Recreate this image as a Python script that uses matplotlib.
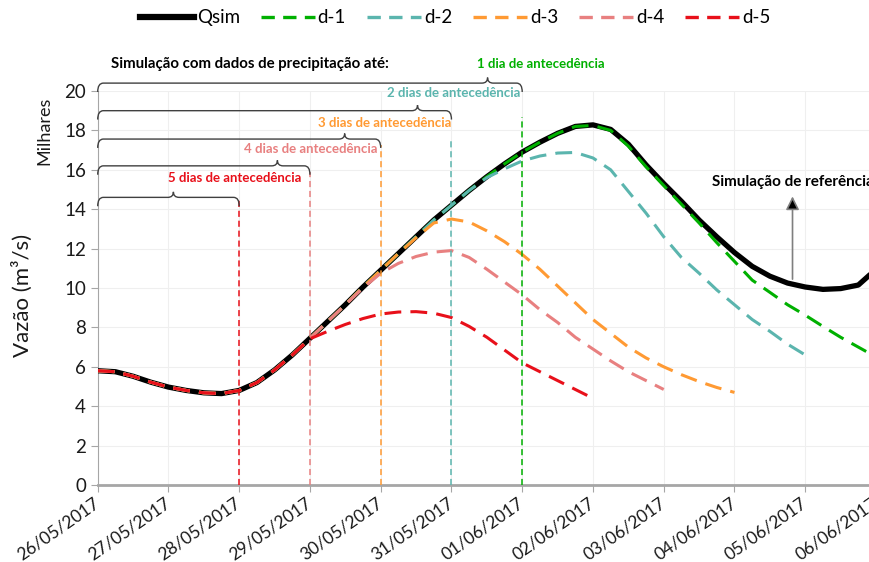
import numpy as np
import matplotlib
matplotlib.use('Agg')
import matplotlib.pyplot as plt
from matplotlib.path import Path
from matplotlib.patches import PathPatch
from matplotlib.lines import Line2D

plt.rcParams['font.family'] = ['Lato', 'DejaVu Sans']

# time axis: days since 26/05/2017, every 6 hours
days = np.arange(45) * 0.25
date_labels = ['26/05/2017', '27/05/2017', '28/05/2017', '29/05/2017', '30/05/2017',
               '31/05/2017', '01/06/2017', '02/06/2017', '03/06/2017', '04/06/2017',
               '05/06/2017', '06/06/2017']

# reference simulation (thousands of m3/s)
qsim = [5.80, 5.75, 5.52, 5.22, 4.97, 4.80, 4.68, 4.64, 4.80, 5.20, 5.84, 6.60,
        7.45, 8.30, 9.15, 10.05, 10.90, 11.75, 12.60, 13.45, 14.20, 14.95, 15.65, 16.30,
        16.90, 17.40, 17.85, 18.20, 18.28, 18.05, 17.30, 16.25, 15.30, 14.40, 13.45, 12.60,
        11.80, 11.10, 10.60, 10.25, 10.05, 9.93, 9.97, 10.15, 10.95]

# forecasts: index where they leave qsim, then their own values
d1_start = 28
d1 = [18.25, 18.00, 17.20, 16.15, 15.20, 14.25, 13.30, 12.30, 11.35, 10.40, 9.78,
      9.15, 8.62, 8.05, 7.50, 7.00, 6.50]
d2_start = 22
d2 = [15.60, 16.05, 16.45, 16.70, 16.85, 16.88, 16.60, 16.00, 14.90, 13.80, 12.60,
      11.55, 10.75, 9.90, 9.15, 8.40, 7.80, 7.15, 6.60]
d3_start = 18
d3 = [12.55, 13.30, 13.50, 13.35, 12.90, 12.35, 11.70, 10.95, 10.10, 9.25, 8.40,
      7.70, 7.00, 6.45, 6.00, 5.60, 5.25, 4.95, 4.70]
d4_start = 14
d4 = [9.15, 10.00, 10.75, 11.25, 11.60, 11.82, 11.90, 11.55, 10.95, 10.30, 9.65,
      8.90, 8.25, 7.50, 6.90, 6.30, 5.75, 5.30, 4.85]
d5_start = 12
d5 = [7.42, 7.80, 8.15, 8.45, 8.68, 8.78, 8.80, 8.72, 8.50, 8.05, 7.50, 6.85,
      6.20, 5.75, 5.30, 4.85, 4.40]

names = ['d-1', 'd-2', 'd-3', 'd-4', 'd-5']
colors = ['#00b000', '#5bb5ae', '#ff9a33', '#e88080', '#e8101a']
starts = [d1_start, d2_start, d3_start, d4_start, d5_start]
forecasts = [d1, d2, d3, d4, d5]

# issue day of each forecast, and top of its marker line
issue_day = [6, 5, 4, 3, 2]
marker_top = [18.7, 17.6, 17.25, 15.9, 14.6]

# braces: y level, tip position, label text position
labels = ['1 dia de antecedência', '2 dias de antecedência', '3 dias de antecedência',
          '4 dias de antecedência', '5 dias de antecedência']
brace_y = [20.4, 19.0, 17.56, 16.2, 14.6]
brace_tip = [5.51, 4.52, 3.49, 2.54, 1.07]
label_x = [6.26, 5.03, 4.06, 3.01, 1.93]
label_y = [21.37, 19.9, 18.4, 17.05, 15.6]

fig = plt.figure(figsize=(8.7, 5.62), dpi=100)
ax = fig.add_axes([0.1123, 0.137, 0.8946, 0.7011])

ax.plot(days, qsim, color='black', lw=3.8, solid_capstyle='round', solid_joinstyle='round',
        zorder=3, label='Qsim')
for name, c, s, f in zip(names, colors, starts, forecasts):
    y = qsim[:s] + f
    ax.plot(days[:len(y)], y, color=c, lw=2.2, dashes=(5.5, 3.0), zorder=4, label=name)

for d, top, c in zip(issue_day, marker_top, colors):
    ax.plot([d, d], [0, top], color=c, lw=1.1, dashes=(4, 2.5), zorder=5)


def brace(x0, x1, xt, y):
    r, dd, tip = 0.08, 0.45, 0.28
    verts = [(x0, y - dd), (x0, y), (x0 + r, y), (xt - r, y), (xt, y), (xt, y + tip),
             (xt, y), (xt + r, y), (x1 - r, y), (x1, y), (x1, y - dd)]
    codes = [Path.MOVETO, Path.CURVE3, Path.CURVE3, Path.LINETO, Path.CURVE3, Path.CURVE3,
             Path.CURVE3, Path.CURVE3, Path.LINETO, Path.CURVE3, Path.CURVE3]
    ax.add_patch(PathPatch(Path(verts, codes), fill=False, ec='#404040', lw=1.0,
                           clip_on=False, zorder=6))


for d, by, bt, lx, ly, txt, c in zip(issue_day, brace_y, brace_tip, label_x, label_y, labels, colors):
    brace(0, d, bt, by)
    ax.text(lx, ly, txt, color=c, fontsize=9.5, fontweight='bold', ha='center', va='center')

ax.text(2.15, 21.37, 'Simulação com dados de precipitação até:', color='black', fontsize=10.8,
        fontweight='bold', ha='center', va='center')

ax.annotate('', xy=(9.82, 14.65), xytext=(9.82, 10.45),
            arrowprops=dict(arrowstyle='-|>', fc='black', ec='#7f7f7f', lw=1.2,
                            mutation_scale=20, shrinkA=0, shrinkB=0), zorder=6)
ax.text(8.68, 15.4, 'Simulação de referência', color='black', fontsize=11,
        fontweight='bold', ha='left', va='center')

ax.set_xlim(0, 11)
ax.set_ylim(0, 20)
ax.set_xticks(np.arange(len(date_labels)))
ax.set_xticklabels(date_labels)
ax.set_yticks(np.arange(0, 21, 2))
ax.grid(True, color='#efefef', lw=0.8)
ax.set_axisbelow(True)
for sp in ['top', 'right']:
    ax.spines[sp].set_visible(False)
ax.spines['left'].set_color('#a6a6a6')
ax.spines['bottom'].set_color('#a6a6a6')
ax.spines['bottom'].set_linewidth(2)
ax.tick_params(axis='both', colors='#a6a6a6', labelcolor='#1a1a1a', length=5, labelsize=13.5)
ax.tick_params(axis='x', pad=7, labelsize=12.5)
for lbl in ax.get_xticklabels():
    lbl.set_rotation(35)
    lbl.set_ha('right')
    lbl.set_va('center')
    lbl.set_rotation_mode('anchor')

fig.text(22 / 870, 1 - 295 / 562, 'Vazão (m³/s)', rotation=90, fontsize=16,
         ha='center', va='center', color='#1a1a1a')
fig.text(44 / 870, 1 - 131 / 562, 'Milhares', rotation=90, fontsize=13,
         ha='center', va='center', color='#1a1a1a')

handles = [Line2D([], [], color='black', lw=4.5)]
handles += [Line2D([], [], color=c, lw=2.4, dashes=(4, 2.5)) for c in colors]
fig.legend(handles, ['Qsim'] + names, loc='center', bbox_to_anchor=(0.523, 0.968), ncol=6,
           frameon=False, fontsize=13.5, handlelength=2.9, handletextpad=0.15,
           columnspacing=1.1)

fig.savefig('out.png', dpi=100)
